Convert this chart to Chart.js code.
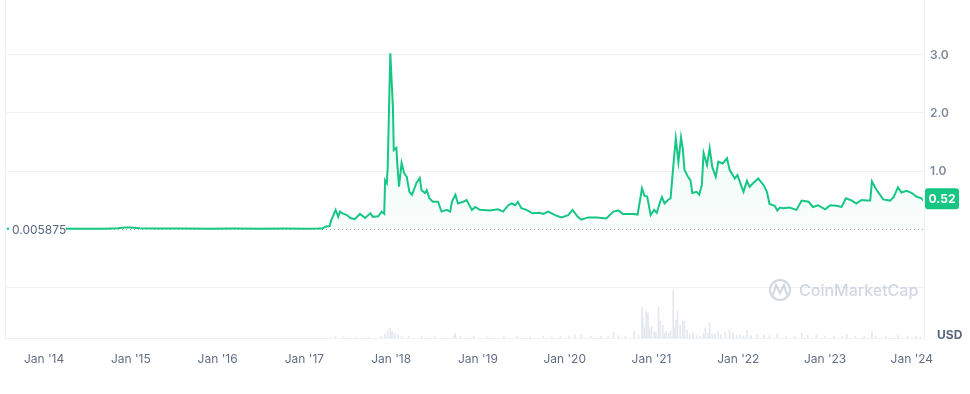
<!DOCTYPE html>
<html lang="en">
<head>
<meta charset="UTF-8">
<title>XRP price chart</title>
<script src="https://cdn.jsdelivr.net/npm/chart.js"></script>
<style>
    html, body { margin: 0; padding: 0; background: #fff; }
    #wrap { position: relative; width: 970px; height: 394px; }
</style>
</head>
<body>
<div id="wrap"><canvas id="chart" width="970" height="394"></canvas></div>
<script>
// price series (decimal year, USD)
const priceYears = [
    2013.57, 2013.75, 2013.95, 2014.10, 2014.30, 2014.50, 2014.70, 2014.85, 2014.93, 2015.00,
    2015.10, 2015.30, 2015.60, 2015.90, 2016.20, 2016.50, 2016.80, 2017.00, 2017.15, 2017.21,
    2017.24, 2017.29, 2017.31, 2017.36, 2017.39, 2017.41, 2017.44, 2017.49, 2017.53, 2017.58,
    2017.64, 2017.70, 2017.76, 2017.79, 2017.85, 2017.89, 2017.92, 2017.93, 2017.95, 2017.96,
    2017.99, 2018.02, 2018.03, 2018.06, 2018.07, 2018.09, 2018.12, 2018.15, 2018.18, 2018.21,
    2018.24, 2018.29, 2018.33, 2018.35, 2018.39, 2018.41, 2018.44, 2018.48, 2018.54, 2018.58,
    2018.64, 2018.68, 2018.70, 2018.74, 2018.77, 2018.83, 2018.87, 2018.93, 2018.97, 2019.02,
    2019.14, 2019.23, 2019.29, 2019.35, 2019.39, 2019.43, 2019.46, 2019.50, 2019.56, 2019.63,
    2019.71, 2019.75, 2019.81, 2019.89, 2019.96, 2020.04, 2020.09, 2020.15, 2020.19, 2020.27,
    2020.37, 2020.48, 2020.56, 2020.62, 2020.67, 2020.79, 2020.84, 2020.89, 2020.92, 2020.95,
    2020.99, 2021.03, 2021.06, 2021.10, 2021.12, 2021.15, 2021.19, 2021.22, 2021.25, 2021.28,
    2021.31, 2021.34, 2021.36, 2021.38, 2021.42, 2021.45, 2021.47, 2021.52, 2021.55, 2021.58,
    2021.60, 2021.64, 2021.67, 2021.70, 2021.74, 2021.77, 2021.82, 2021.87, 2021.90, 2021.96,
    2021.99, 2022.06, 2022.10, 2022.13, 2022.17, 2022.23, 2022.29, 2022.33, 2022.36, 2022.42,
    2022.45, 2022.48, 2022.52, 2022.59, 2022.67, 2022.73, 2022.81, 2022.86, 2022.92, 2023.00,
    2023.06, 2023.13, 2023.19, 2023.24, 2023.31, 2023.36, 2023.42, 2023.48, 2023.52, 2023.54,
    2023.59, 2023.61, 2023.67, 2023.75, 2023.79, 2023.84, 2023.88, 2023.94, 2024.00, 2024.05,
    2024.11, 2024.115
];
const priceValues = [
    0.0059, 0.005, 0.02, 0.018, 0.006, 0.005, 0.005, 0.012, 0.025, 0.024,
    0.015, 0.009, 0.007, 0.006, 0.007, 0.006, 0.008, 0.0065, 0.007, 0.01,
    0.04, 0.05, 0.155, 0.33, 0.21, 0.30, 0.27, 0.24, 0.19, 0.17,
    0.26, 0.19, 0.27, 0.21, 0.22, 0.30, 0.26, 0.84, 0.79, 1.07,
    3.03, 2.11, 1.36, 1.40, 1.14, 0.73, 1.14, 0.96, 0.90, 0.64,
    0.59, 0.79, 0.88, 0.67, 0.62, 0.67, 0.53, 0.47, 0.47, 0.30,
    0.33, 0.30, 0.47, 0.59, 0.44, 0.47, 0.50, 0.33, 0.38, 0.33,
    0.32, 0.34, 0.30, 0.41, 0.44, 0.41, 0.47, 0.36, 0.33, 0.27,
    0.28, 0.26, 0.30, 0.24, 0.20, 0.24, 0.33, 0.21, 0.16, 0.20,
    0.20, 0.18, 0.30, 0.32, 0.26, 0.26, 0.25, 0.70, 0.57, 0.56,
    0.24, 0.33, 0.28, 0.47, 0.55, 0.44, 0.50, 0.53, 1.07, 1.56,
    1.16, 1.58, 1.39, 1.02, 0.90, 0.84, 0.62, 0.64, 0.59, 0.76,
    1.31, 1.10, 1.39, 1.07, 0.90, 1.16, 1.13, 1.22, 1.02, 0.87,
    0.93, 0.64, 0.83, 0.73, 0.79, 0.87, 0.76, 0.64, 0.43, 0.40,
    0.32, 0.37, 0.36, 0.37, 0.33, 0.49, 0.47, 0.38, 0.41, 0.34,
    0.41, 0.40, 0.38, 0.53, 0.49, 0.44, 0.50, 0.49, 0.49, 0.82,
    0.68, 0.64, 0.51, 0.49, 0.55, 0.72, 0.63, 0.66, 0.62, 0.56,
    0.53, 0.52
];

// volume (decimal year, share of the volume pane in %)
const volumeYears = [
    2017.30, 2017.36, 2017.45, 2017.60, 2017.75, 2017.88, 2017.93, 2017.96, 2017.99, 2018.01,
    2018.04, 2018.08, 2018.12, 2018.20, 2018.35, 2018.50, 2018.72, 2018.74, 2018.80, 2018.95,
    2019.10, 2019.30, 2019.45, 2019.60, 2019.75, 2019.85, 2019.95, 2020.05, 2020.12, 2020.19,
    2020.30, 2020.42, 2020.50, 2020.56, 2020.62, 2020.70, 2020.80, 2020.85, 2020.89, 2020.90,
    2020.92, 2020.94, 2020.96, 2020.98, 2021.00, 2021.03, 2021.05, 2021.08, 2021.10, 2021.13,
    2021.15, 2021.17, 2021.20, 2021.22, 2021.25, 2021.27, 2021.28, 2021.30, 2021.33, 2021.36,
    2021.38, 2021.41, 2021.44, 2021.48, 2021.52, 2021.56, 2021.60, 2021.62, 2021.65, 2021.67,
    2021.70, 2021.73, 2021.77, 2021.80, 2021.85, 2021.90, 2021.94, 2021.98, 2022.02, 2022.06,
    2022.10, 2022.15, 2022.22, 2022.30, 2022.36, 2022.45, 2022.55, 2022.65, 2022.73, 2022.80,
    2022.90, 2023.00, 2023.10, 2023.20, 2023.25, 2023.35, 2023.45, 2023.54, 2023.58, 2023.70,
    2023.84, 2023.95, 2024.05, 2024.10
];
const volumeValues = [
    1, 3, 2, 1.5, 1.5, 3, 8, 14, 19, 12,
    9, 6, 4, 3, 3, 2, 5, 9, 3, 3,
    2, 3, 4, 2, 3, 2, 3, 4, 5, 6,
    3, 3, 3, 11, 5, 4, 13, 6, 59, 41,
    20, 53, 49, 18, 23, 12, 10, 61, 33, 25,
    9, 13, 8, 13, 94, 20, 35, 53, 25, 33,
    33, 16, 8, 10, 5, 4, 8, 20, 9, 29,
    7, 8, 13, 6, 11, 16, 10, 5, 6, 4,
    15, 5, 6, 6, 5, 8, 3, 4, 9, 5,
    6, 3, 4, 4, 7, 3, 3, 12, 4, 3,
    5, 3, 3, 2
];

const yearTicks = [2014, 2015, 2016, 2017, 2018, 2019, 2020, 2021, 2022, 2023, 2024];
const priceTicks = [-1, 1, 2, 3];
const startPrice = 0.005875;
const lastPrice = 0.52;

const green = '#16c784';
const gridColor = '#eff2f5';
const textColor = '#616e85';

// extra drawing: borders, dotted start line, labels, watermark
const overlay = {
    id: 'overlay',
    beforeDatasetsDraw(chart) {
        const { ctx, chartArea } = chart;
        const y = chart.scales.y.getPixelForValue(startPrice);
        ctx.save();
        // side borders
        ctx.strokeStyle = gridColor;
        ctx.lineWidth = 1;
        ctx.beginPath();
        ctx.moveTo(chartArea.left + 0.5, chartArea.top);
        ctx.lineTo(chartArea.left + 0.5, chartArea.bottom);
        ctx.moveTo(chartArea.right + 0.5, chartArea.top);
        ctx.lineTo(chartArea.right + 0.5, chartArea.bottom);
        ctx.stroke();
        // watermark
        ctx.globalAlpha = 0.5;
        ctx.strokeStyle = '#a6b0c3';
        ctx.lineWidth = 2;
        ctx.beginPath();
        ctx.arc(780, 290, 10, 0, Math.PI * 2);
        ctx.stroke();
        ctx.beginPath();
        ctx.moveTo(773, 295);
        ctx.lineTo(776, 285);
        ctx.lineTo(780, 293);
        ctx.lineTo(784, 285);
        ctx.lineTo(787, 295);
        ctx.stroke();
        ctx.fillStyle = '#a6b0c3';
        ctx.font = '500 16px Inter';
        ctx.textBaseline = 'middle';
        ctx.fillText('CoinMarketCap', 799, 291);
        ctx.globalAlpha = 1;
        // dotted line at the first price
        ctx.strokeStyle = '#9aa3b5';
        ctx.lineWidth = 1;
        ctx.setLineDash([1, 3]);
        ctx.beginPath();
        ctx.moveTo(66, Math.round(y) + 0.5);
        ctx.lineTo(chartArea.right, Math.round(y) + 0.5);
        ctx.stroke();
        ctx.restore();
    },
    afterDatasetsDraw(chart) {
        const { ctx } = chart;
        const yS = chart.scales.y;
        ctx.save();
        // first price label
        const y0 = yS.getPixelForValue(startPrice);
        ctx.fillStyle = '#fff';
        ctx.fillRect(9, y0 - 8, 57, 17);
        ctx.fillStyle = '#58667e';
        ctx.font = '12px Inter';
        ctx.textBaseline = 'middle';
        ctx.textAlign = 'left';
        ctx.fillText(String(startPrice), 12, y0 + 2);
        // last price pill
        const y1 = yS.getPixelForValue(lastPrice);
        ctx.fillStyle = green;
        ctx.beginPath();
        ctx.roundRect(925, y1 - 10.5, 34, 21, 3);
        ctx.fill();
        ctx.fillStyle = '#fff';
        ctx.font = 'bold 12px Inter';
        ctx.textAlign = 'center';
        ctx.fillText(lastPrice.toFixed(2), 942, y1 + 1);
        // currency
        ctx.fillStyle = '#58667e';
        ctx.textAlign = 'left';
        ctx.fillText('USD', 937, 335);
        ctx.restore();
    }
};

const ctx = document.getElementById('chart');

new Chart(ctx, {
    type: 'line',
    data: {
        datasets: [
            {
                type: 'line',
                data: priceYears.map((x, i) => ({ x: x, y: priceValues[i] })),
                yAxisID: 'y',
                borderColor: green,
                borderWidth: 2,
                pointRadius: 0,
                tension: 0,
                fill: { value: startPrice },
                backgroundColor: (c) => {
                    const area = c.chart.chartArea;
                    if (!area) return 'rgba(22,199,132,0.05)';
                    const base = c.chart.scales.y.getPixelForValue(startPrice);
                    const g = c.chart.ctx.createLinearGradient(0, area.top + 40, 0, base);
                    g.addColorStop(0, 'rgba(22,199,132,0.12)');
                    g.addColorStop(1, 'rgba(22,199,132,0.02)');
                    return g;
                },
                order: 1
            },
            {
                type: 'bar',
                data: volumeYears.map((x, i) => ({ x: x, y: volumeValues[i] })),
                yAxisID: 'yVol',
                backgroundColor: '#e4e8ee',
                barThickness: 1,
                order: 2
            }
        ]
    },
    options: {
        responsive: false,
        animation: false,
        layout: { padding: { left: 5, top: 0, right: 0, bottom: 0 } },
        plugins: {
            legend: { display: false },
            tooltip: { enabled: false }
        },
        scales: {
            x: {
                type: 'linear',
                min: 2013.55,
                max: 2024.14,
                offset: false,
                grid: { display: false, offset: false },
                border: { display: true, color: gridColor },
                afterBuildTicks: (s) => { s.ticks = yearTicks.map(v => ({ value: v })); },
                afterFit: (s) => { s.height = 56; s.paddingLeft = 0; s.paddingRight = 0; },
                ticks: {
                    autoSkip: false,
                    maxRotation: 0,
                    padding: 6,
                    color: textColor,
                    font: { family: 'Inter', size: 12 },
                    callback: (v) => "Jan '" + String(v).slice(2)
                }
            },
            y: {
                position: 'right',
                min: -1.879,
                max: 3.948,
                afterBuildTicks: (s) => { s.ticks = priceTicks.map(v => ({ value: v })); },
                afterFit: (s) => { s.width = 46; s.paddingTop = 0; s.paddingBottom = 0; },
                grid: { color: gridColor, drawTicks: false },
                border: { display: false },
                ticks: {
                    padding: 6,
                    color: '#808a9d',
                    font: { family: 'Inter', size: 12, weight: '600' },
                    callback: (v) => v > 0 ? v.toFixed(1) : ''
                }
            },
            yVol: {
                display: false,
                min: 0,
                max: 100 * 338 / 51
            }
        }
    },
    plugins: [overlay]
});
</script>
</body>
</html>
